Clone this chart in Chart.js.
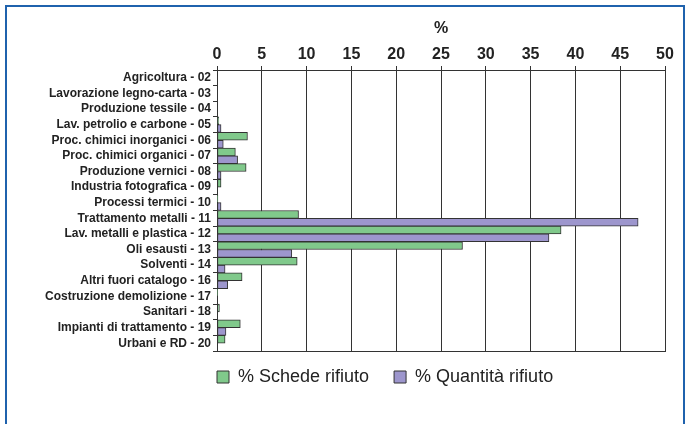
<!DOCTYPE html>
<html>
<head>
<meta charset="utf-8">
<script src="https://cdn.jsdelivr.net/npm/chart.js@4/dist/chart.umd.min.js"></script>
<style>
  html, body { margin: 0; padding: 0; background: #fff; }
  body { width: 691px; height: 424px; position: relative; overflow: hidden; }
  .frame { position: absolute; left: 5px; top: 5px; width: 676px; height: 440px; border: 2px solid #1f62ad; }
  .wrap { position: absolute; left: 0; top: 0; width: 691px; height: 424px; }
</style>
</head>
<body>
<div class="frame"></div>
<div class="wrap"><canvas id="myChart"></canvas></div>
<script>
// categorie (codici attivita)
const categories = [
        'Agricoltura - 02',
        'Lavorazione legno-carta - 03',
        'Produzione tessile - 04',
        'Lav. petrolio e carbone - 05',
        'Proc. chimici inorganici - 06',
        'Proc. chimici organici - 07',
        'Produzione vernici - 08',
        'Industria fotografica - 09',
        'Processi termici - 10',
        'Trattamento metalli - 11',
        'Lav. metalli e plastica - 12',
        'Oli esausti - 13',
        'Solventi - 14',
        'Altri fuori catalogo - 16',
        'Costruzione demolizione - 17',
        'Sanitari - 18',
        'Impianti di trattamento - 19',
        'Urbani e RD - 20'
];
const seriesNames = ['% Schede rifiuto', '% Quantità rifiuto'];
// % schede rifiuto
const schede = [0, 0, 0, 0.2, 3.4, 2.05, 3.25, 0.45, 0.1, 9.1, 38.4, 27.4, 8.95, 2.8, 0.05, 0.27, 2.6, 0.9];
// % quantita rifiuto
const quantita = [0, 0, 0, 0.45, 0.7, 2.3, 0.45, 0, 0.45, 47.0, 37.05, 8.35, 0.9, 1.2, 0, 0, 1.0, 0];
const xTicks = [0, 5, 10, 15, 20, 25, 30, 35, 40, 45, 50];

const font = "'Liberation Sans', Arial, sans-serif";
const lineCol = '#333';

// sposta la legenda sotto il grafico
const legendShift = {
        id: 'legendShift',
        afterLayout(chart) {
                const lg = chart.legend;
                const dx = -25, dy = -8;
                lg.left += dx; lg.right += dx;
                lg.top += dy; lg.bottom += dy;
        }
};

const data = {
        labels: categories,
        datasets: [{
                label: seriesNames[0],
                data: schede,
                backgroundColor: '#80c98b',
                borderColor: lineCol,
                borderWidth: 1,
                borderSkipped: false
        }, {
                label: seriesNames[1],
                data: quantita,
                backgroundColor: '#9d96cd',
                borderColor: lineCol,
                borderWidth: 1,
                borderSkipped: false
        }]
};

const config = {
        type: 'bar',
        data: data,
        plugins: [legendShift],
        options: {
                indexAxis: 'y',
                responsive: false,
                animation: false,
                devicePixelRatio: 1,
                barPercentage: 1,
                categoryPercentage: 1,
                layout: { padding: { left: 0, right: 26, top: 0, bottom: 20 } },
                plugins: {
                        tooltip: { enabled: false },
                        legend: {
                                position: 'bottom',
                                align: 'start',
                                fullSize: false,
                                labels: {
                                        boxWidth: 12,
                                        boxHeight: 12,
                                        padding: 25,
                                        color: '#222',
                                        font: { family: font, size: 18 }
                                }
                        }
                },
                scales: {
                        x: {
                                position: 'top',
                                min: 0,
                                max: 50,
                                afterBuildTicks: s => { s.ticks = xTicks.map(v => ({ value: v })); },
                                afterFit: s => { s.height = 70; },
                                grid: { color: lineCol, lineWidth: 1, tickLength: 4 },
                                border: { color: lineCol, width: 1 },
                                ticks: {
                                        padding: 2,
                                        color: '#222',
                                        font: { family: font, size: 16, weight: 'bold' }
                                },
                                title: {
                                        display: true,
                                        text: '%',
                                        color: '#222',
                                        padding: { top: 19, bottom: 0 },
                                        font: { family: font, size: 16, weight: 'bold' }
                                }
                        },
                        x2: {
                                position: 'bottom',
                                min: 0,
                                max: 50,
                                afterFit: s => { s.height = 0; },
                                grid: { display: false },
                                ticks: { display: false },
                                border: { display: true, color: lineCol, width: 1 }
                        },
                        y: {
                                afterFit: s => { s.width = 217; },
                                grid: { drawOnChartArea: false, color: lineCol, tickLength: 4 },
                                border: { color: lineCol, width: 1 },
                                ticks: {
                                        padding: 2,
                                        color: '#222',
                                        autoSkip: false,
                                        font: { family: font, size: 12, weight: 'bold' }
                                }
                        }
                }
        }
};

const canvas = document.getElementById('myChart');
canvas.width = 691;
canvas.height = 424;
const myChart = new Chart(canvas, config);
</script>
</body>
</html>
